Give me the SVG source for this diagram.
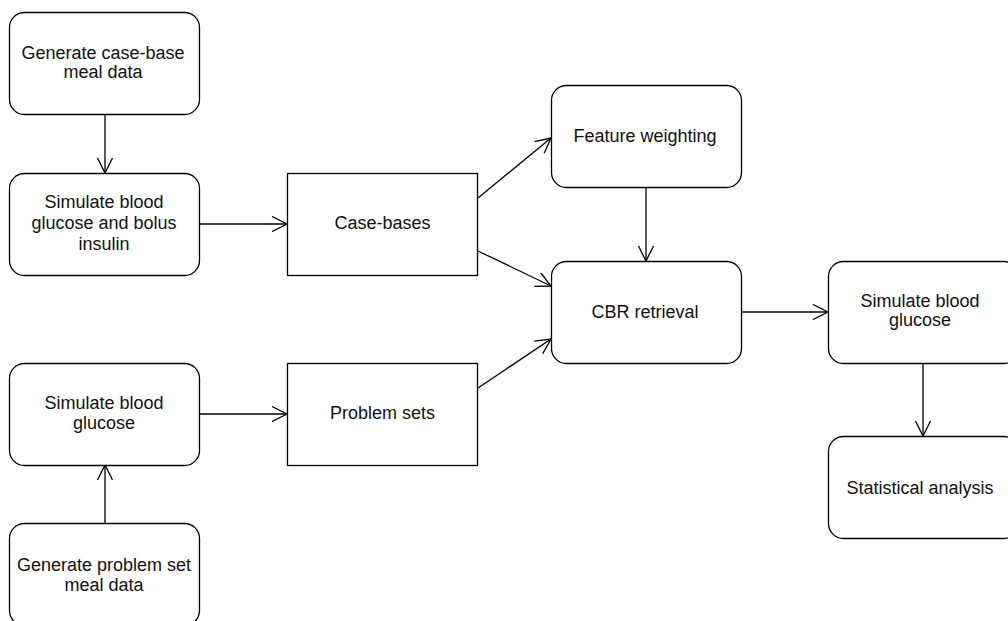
<svg xmlns="http://www.w3.org/2000/svg" width="1008" height="621" viewBox="0 0 1008 621">
  <defs>
    <style>
      .box { fill: #ffffff; stroke: #000000; stroke-width: 1.3; }
      .edge { fill: none; stroke: #000000; stroke-width: 1.3; }
      .label { font-family: "Liberation Sans", Arial, Helvetica, sans-serif; font-size: 18px; fill: #111111; text-anchor: middle; }
    </style>
    <!-- open V arrowhead -->
    <marker id="arrow" viewBox="-16 -8 18 16" refX="0" refY="0" markerWidth="18" markerHeight="16" markerUnits="userSpaceOnUse" orient="auto">
      <path d="M-15,-7.5 L0,0 L-15,7.5" fill="none" stroke="#000000" stroke-width="1.3"/>
    </marker>
  </defs>
  <rect width="1008" height="621" fill="#ffffff"/>

  <g id="connectors">
    <line class="edge" x1="105" y1="114" x2="105" y2="173" marker-end="url(#arrow)"/>
    <line class="edge" x1="200" y1="224" x2="287" y2="224" marker-end="url(#arrow)"/>
    <line class="edge" x1="478" y1="198" x2="551" y2="138" marker-end="url(#arrow)"/>
    <line class="edge" x1="478" y1="251" x2="551" y2="286" marker-end="url(#arrow)"/>
    <line class="edge" x1="646" y1="188" x2="646" y2="261" marker-end="url(#arrow)"/>
    <line class="edge" x1="478" y1="388" x2="551" y2="339" marker-end="url(#arrow)"/>
    <line class="edge" x1="200" y1="414" x2="287" y2="414" marker-end="url(#arrow)"/>
    <line class="edge" x1="105" y1="523" x2="105" y2="465" marker-end="url(#arrow)"/>
    <line class="edge" x1="741" y1="312" x2="828" y2="312" marker-end="url(#arrow)"/>
    <line class="edge" x1="923" y1="363" x2="923" y2="436" marker-end="url(#arrow)"/>
  </g>

  <g id="gen-casebase">
    <rect class="box" x="9.5" y="12.5" width="190" height="102" rx="15" ry="15"/>
    <text class="label" x="103" y="59">Generate case-base</text>
    <text class="label" x="103" y="78">meal data</text>
  </g>

  <g id="sim-bg-insulin">
    <rect class="box" x="9.5" y="173.5" width="190" height="102" rx="15" ry="15"/>
    <text class="label" x="104" y="208">Simulate blood</text>
    <text class="label" x="104" y="229">glucose and bolus</text>
    <text class="label" x="104" y="250">insulin</text>
  </g>

  <g id="case-bases">
    <rect class="box" x="287.5" y="173.5" width="190" height="102"/>
    <text class="label" x="382.5" y="229">Case-bases</text>
  </g>

  <g id="feature-weighting">
    <rect class="box" x="551.5" y="85.5" width="190" height="102" rx="15" ry="15"/>
    <text class="label" x="645" y="142">Feature weighting</text>
  </g>

  <g id="cbr-retrieval">
    <rect class="box" x="551.5" y="261.5" width="190" height="102" rx="15" ry="15"/>
    <text class="label" x="645" y="318">CBR retrieval</text>
  </g>

  <g id="problem-sets">
    <rect class="box" x="287.5" y="363.5" width="190" height="102"/>
    <text class="label" x="382.5" y="419">Problem sets</text>
  </g>

  <g id="sim-bg-left">
    <rect class="box" x="9.5" y="363.5" width="190" height="102" rx="15" ry="15"/>
    <text class="label" x="104" y="409">Simulate blood</text>
    <text class="label" x="104" y="429">glucose</text>
  </g>

  <g id="gen-problemset">
    <rect class="box" x="9.5" y="523.5" width="190" height="102" rx="15" ry="15"/>
    <text class="label" x="104" y="571">Generate problem set</text>
    <text class="label" x="104" y="591">meal data</text>
  </g>

  <g id="sim-bg-right">
    <rect class="box" x="828.5" y="261.5" width="190" height="102" rx="15" ry="15"/>
    <text class="label" x="920" y="307">Simulate blood</text>
    <text class="label" x="920" y="326">glucose</text>
  </g>

  <g id="statistical-analysis">
    <rect class="box" x="828.5" y="436.5" width="190" height="102" rx="15" ry="15"/>
    <text class="label" x="920" y="494">Statistical analysis</text>
  </g>
</svg>
